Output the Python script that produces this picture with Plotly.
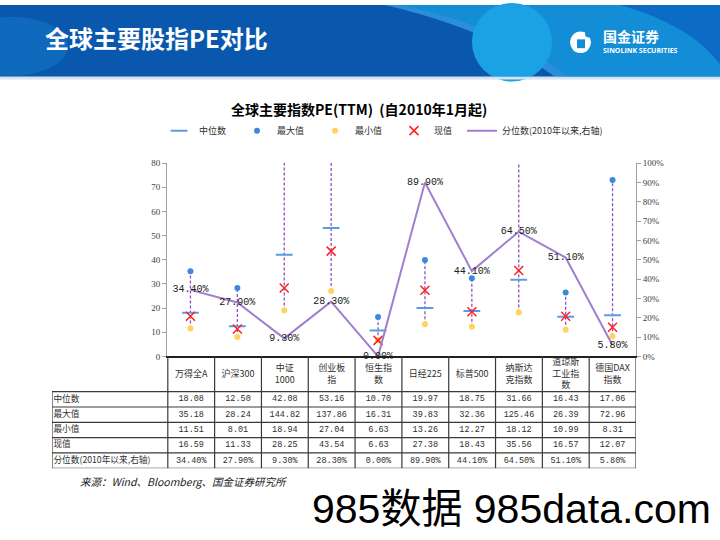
import plotly.graph_objects as go

W, H = 720, 540

# ---------------- data ----------------
cat_keys = ['万得全A', '沪深300', '中证1000', '创业板指', '恒生指数',
            '日经225', '标普500', '纳斯达克指数', '道琼斯工业指数', '德国DAX指数']
cat_labels = ['万得全A', '沪深300', '中证<br>1000', '创业板<br>指', '恒生指<br>数',
              '日经225', '标普500', '纳斯达<br>克指数', '道琼斯<br>工业指<br>数', '德国DAX<br>指数']
median = [18.08, 12.50, 42.08, 53.16, 10.70, 19.97, 18.75, 31.66, 16.43, 17.06]
maximum = [35.18, 28.24, 144.82, 137.86, 16.31, 39.83, 32.36, 125.46, 26.39, 72.96]
minimum = [11.51, 8.01, 18.94, 27.04, 6.63, 13.26, 12.27, 18.12, 10.99, 8.31]
current = [16.59, 11.33, 28.25, 43.54, 6.63, 27.38, 18.43, 35.56, 16.57, 12.07]
percentile = [34.40, 27.90, 9.30, 28.30, 0.00, 89.90, 44.10, 64.50, 51.10, 5.80]
row_labels = ['中位数', '最大值', '最小值', '现值', '分位数(2010年以来,右轴)']
left_ticks = [0, 10, 20, 30, 40, 50, 60, 70, 80]
right_ticks = [0, 10, 20, 30, 40, 50, 60, 70, 80, 90, 100]


def px(x):
    return x / W


def py(y):
    return 1 - y / H


CJK = 'Noto Sans CJK SC'
MONO = 'Liberation Mono, Noto Sans CJK SC'

fig = go.Figure()

# dashed min-max range lines
xs, ys = [], []
for c, lo, hi in zip(cat_keys, minimum, maximum):
    xs += [c, c, None]
    ys += [lo, hi, None]
fig.add_trace(go.Scatter(x=xs, y=ys, mode='lines', showlegend=False, hoverinfo='skip',
                         line=dict(color='#8B4FC9', width=1.3, dash='3px,2px')))

fig.add_trace(go.Scatter(x=cat_keys, y=median, mode='markers', name='中位数', legend='legend',
                         marker=dict(symbol='line-ew', size=12,
                                     line=dict(width=2, color='#5B9BE0'))))
fig.add_trace(go.Scatter(x=cat_keys, y=maximum, mode='markers', name='最大值', legend='legend2',
                         marker=dict(symbol='circle', size=6, color='#3D87E0')))
fig.add_trace(go.Scatter(x=cat_keys, y=minimum, mode='markers', name='最小值', legend='legend3',
                         marker=dict(symbol='circle', size=6, color='#FFD35C')))
fig.add_trace(go.Scatter(x=cat_keys, y=current, mode='markers', name='现值', legend='legend4',
                         marker=dict(symbol='x-thin', size=9,
                                     line=dict(width=1.5, color='#FF2020'))))
fig.add_trace(go.Scatter(x=cat_keys, y=percentile, yaxis='y2', mode='lines+text',
                         name='分位数(2010年以来,右轴)', legend='legend5',
                         text=[f'{v:.2f}%' for v in percentile], textposition='middle center',
                         textfont=dict(family=MONO, size=10, color='#202020'),
                         cliponaxis=False,
                         line=dict(color='#A07ED0', width=2)))

# ---------------- data table on its own axes (x3 / y3) ----------------
col_w = 46.9
xl = -0.5 - 116 / col_w          # left edge of row-label column (column units)
hdr_h, row_h = 36.0, 15.6        # table y axis in pixel-like units
tbl_h = hdr_h + row_h * 5

# header labels
fig.add_trace(go.Scatter(x=list(range(len(cat_labels))), y=[hdr_h / 2 + 0.5] * len(cat_labels),
                         xaxis='x3', yaxis='y3', mode='text', text=cat_labels,
                         textposition='middle center', showlegend=False, hoverinfo='skip',
                         cliponaxis=False,
                         textfont=dict(family=CJK, size=9, color='#303030')))
# cell values
cx, cy, ct = [], [], []
rows = [[f'{v:.2f}' for v in median], [f'{v:.2f}' for v in maximum],
        [f'{v:.2f}' for v in minimum], [f'{v:.2f}' for v in current],
        [f'{v:.2f}%' for v in percentile]]
for r, vals in enumerate(rows):
    for i, t in enumerate(vals):
        cx.append(i)
        cy.append(hdr_h + row_h * (r + 0.5))
        ct.append(t)
fig.add_trace(go.Scatter(x=cx, y=cy, xaxis='x3', yaxis='y3', mode='text', text=ct,
                         textposition='middle center', showlegend=False, hoverinfo='skip',
                         cliponaxis=False,
                         textfont=dict(family=MONO, size=8.5, color='#303030')))
# row labels
fig.add_trace(go.Scatter(x=[xl + 0.03] * len(row_labels),
                         y=[hdr_h + row_h * (r + 0.5) for r in range(len(row_labels))],
                         xaxis='x3', yaxis='y3', mode='text', text=row_labels,
                         textposition='middle right', showlegend=False, hoverinfo='skip',
                         cliponaxis=False,
                         textfont=dict(family=CJK, size=8.7, color='#303030')))

shapes = []
LC = '#3A3A3A'
for k in range(len(cat_keys) + 1):
    shapes.append(dict(type='line', xref='x3', yref='y3', x0=k - 0.5, x1=k - 0.5,
                       y0=0, y1=tbl_h, line=dict(color=LC, width=1.2)))
shapes.append(dict(type='line', xref='x3', yref='y3', x0=xl, x1=xl,
                   y0=hdr_h, y1=tbl_h, line=dict(color=LC, width=1.2)))
for k in range(6):
    shapes.append(dict(type='line', xref='x3', yref='y3', x0=xl, x1=9.5,
                       y0=hdr_h + row_h * k, y1=hdr_h + row_h * k,
                       line=dict(color=LC, width=1.2)))

# ---------------- banner ----------------
def B(**kw):
    d = dict(xref='paper', yref='paper', layer='below', line=dict(width=0))
    d.update(kw)
    return d

shapes.append(B(type='rect', x0=0, x1=1, y0=py(73), y1=1, fillcolor='#0A58AD'))
shapes.append(B(type='circle', x0=px(-45), x1=px(68), y0=py(72), y1=py(12), fillcolor='#0F69BC'))
shapes.append(B(type='path',
                path=f'M {px(395)} {py(0)} L {px(720)} {py(0)} L {px(720)} {py(73)} '
                     f'L {px(565)} {py(73)} Q {px(500)} {py(20)} {px(395)} {py(0)} Z',
                fillcolor='#128DD6'))
shapes.append(B(type='path',
                path=f'M {px(385)} {py(0)} L {px(400)} {py(0)} Q {px(505)} {py(22)} {px(568)} {py(73)} '
                     f'L {px(555)} {py(73)} Q {px(490)} {py(25)} {px(385)} {py(0)} Z',
                fillcolor='#2A8FD8'))
shapes.append(B(type='circle', x0=px(472), x1=px(552), y0=py(78), y1=py(-2), fillcolor='#1AA2E4'))
shapes.append(B(type='path',
                path=f'M {px(620)} {py(0)} L {px(720)} {py(0)} L {px(720)} {py(60)} '
                     f'Q {px(690)} {py(20)} {px(620)} {py(0)} Z',
                fillcolor='#0C6BC4'))
shapes.append(B(type='rect', x0=0, x1=1, y0=py(76), y1=py(73), fillcolor='#D6E2EF'))
# logo
shapes.append(B(type='circle', x0=px(570), x1=px(591), y0=py(49), y1=py(27), fillcolor='white', layer='above'))
shapes.append(B(type='circle', x0=px(585), x1=px(593), y0=py(33), y1=py(25), fillcolor='#128DD6', layer='above'))
shapes.append(B(type='rect', x0=px(577), x1=px(585), y0=py(44), y1=py(35), fillcolor='#128DD6', layer='above'))

annotations = [
    dict(text='<b>全球主要股指PE对比</b>', x=px(43), y=py(33), xref='paper', yref='paper',
         xanchor='left', yanchor='middle', showarrow=False,
         font=dict(family=CJK, size=24, color='white')),
    dict(text='<b>国金证券</b>', x=px(601), y=py(32), xref='paper', yref='paper',
         xanchor='left', yanchor='middle', showarrow=False,
         font=dict(family=CJK, size=14, color='white')),
    dict(text='<b>SINOLINK SECURITIES</b>', x=px(601), y=py(46.5), xref='paper', yref='paper',
         xanchor='left', yanchor='middle', showarrow=False,
         font=dict(family='Open Sans', size=7, color='white')),
    dict(text='<b>全球主要指数PE(TTM)\u00a0\u00a0(自2010年1月起)</b>', x=px(359), y=py(106),
         xref='paper', yref='paper', xanchor='center', yanchor='middle', showarrow=False,
         font=dict(family=CJK, size=14, color='black')),
    dict(text='<i>来源：Wind、Bloomberg、国金证券研究所</i>', x=px(78), y=py(485),
         xref='paper', yref='paper', xanchor='left', yanchor='middle', showarrow=False,
         font=dict(family=CJK, size=10.5, color='#202020')),
    dict(text='985数据 985data.com', x=px(511), y=py(513), xref='paper', yref='paper',
         xanchor='center', yanchor='middle', showarrow=False,
         font=dict(family='Liberation Sans, Noto Sans CJK SC', size=41, color='black')),
]

legend_font = dict(family=CJK, size=9, color='#303030')


def leg(xpix):
    return dict(orientation='h', x=px(xpix), y=py(128), xanchor='left', yanchor='middle',
                font=legend_font, bgcolor='rgba(0,0,0,0)', borderwidth=0)


fig.update_layout(
    width=W, height=H, autosize=False,
    margin=dict(l=0, r=0, t=0, b=0),
    paper_bgcolor='white', plot_bgcolor='white',
    font=dict(family=CJK, size=10, color='#303030'),
    shapes=shapes, annotations=annotations,
    showlegend=True,
    legend=leg(197 - 38), legend2=leg(275 - 38), legend3=leg(353 - 38),
    legend4=leg(432 - 38), legend5=leg(501 - 39),
    xaxis=dict(domain=[px(167), px(636)], type='category', range=[-0.5, 9.5],
               showticklabels=False, ticks='', showgrid=False, zeroline=False,
               showline=True, linecolor='#202020', linewidth=1.5),
    yaxis=dict(domain=[py(358), py(161)], range=[0, 80], tickvals=left_ticks,
               ticks='outside', ticklen=4, tickcolor='#A0A0A0', showgrid=False, zeroline=False,
               showline=True, linecolor='#A0A0A0', linewidth=1,
               tickfont=dict(family='Liberation Serif', size=9, color='#404040')),
    yaxis2=dict(overlaying='y', side='right', range=[0, 100], tickvals=right_ticks,
                ticktext=[f'{v}%' for v in right_ticks],
                ticks='outside', ticklen=4, tickcolor='#A0A0A0', showgrid=False, zeroline=False,
                showline=True, linecolor='#A0A0A0', linewidth=1,
                tickfont=dict(family='Liberation Serif', size=9, color='#404040')),
    xaxis3=dict(domain=[px(52), px(636)], range=[xl, 9.5], visible=False, anchor='y3'),
    yaxis3=dict(domain=[py(358 + tbl_h), py(358)], range=[tbl_h, 0], visible=False, anchor='x3'),
)

fig.write_html('out.html')
